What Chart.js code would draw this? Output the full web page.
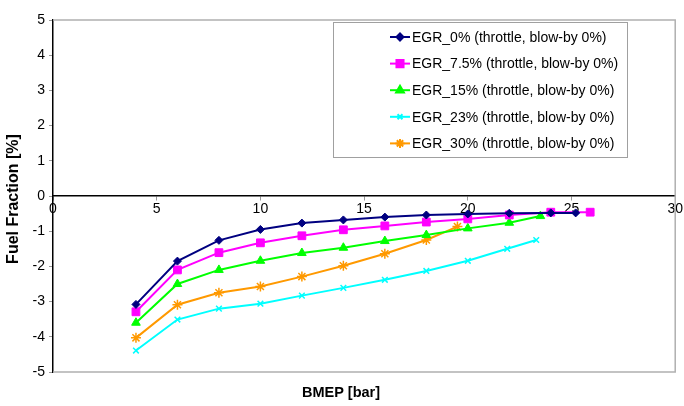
<!DOCTYPE html>
<html>
<head>
<meta charset="utf-8">
<script src="https://cdn.jsdelivr.net/npm/chart.js@4"></script>
<style>
  body { margin: 0; background: #fff; }
  #wrap { width: 684px; height: 406px; }
</style>
</head>
<body>
<div id="wrap"><canvas id="myChart" width="684" height="406"></canvas></div>
<script>
// BMEP [bar] / fuel fraction [%]
const bmep0 = [4, 6, 8, 10, 12, 14, 16, 18, 20, 22, 24, 25.2];
const egr0 = [-3.08, -1.85, -1.26, -0.95, -0.77, -0.68, -0.6, -0.54, -0.51, -0.49, -0.48, -0.48];

const bmep75 = [4, 6, 8, 10, 12, 14, 16, 18, 20, 22, 24, 25.9];
const egr75 = [-3.29, -2.1, -1.61, -1.33, -1.13, -0.96, -0.85, -0.74, -0.65, -0.54, -0.46, -0.46];

const bmep15 = [4, 6, 8, 10, 12, 14, 16, 18, 20, 22, 23.5];
const egr15 = [-3.6, -2.5, -2.1, -1.84, -1.62, -1.47, -1.28, -1.11, -0.92, -0.76, -0.57];

const bmep23 = [4, 6, 8, 10, 12, 14, 16, 18, 20, 21.9, 23.3];
const egr23 = [-4.39, -3.51, -3.2, -3.06, -2.83, -2.61, -2.38, -2.13, -1.84, -1.5, -1.25];

const bmep30 = [4, 6, 8, 10, 12, 14, 16, 18, 19.5];
const egr30 = [-4.03, -3.09, -2.75, -2.57, -2.29, -1.98, -1.64, -1.25, -0.87];

const labels = [
  "EGR_0% (throttle, blow-by 0%)",
  "EGR_7.5% (throttle, blow-by 0%)",
  "EGR_15% (throttle, blow-by 0%)",
  "EGR_23% (throttle, blow-by 0%)",
  "EGR_30% (throttle, blow-by 0%)"
];

const FONT = '"Liberation Sans", Arial, sans-serif';

function toPoints(xs, ys) {
  return xs.map((x, i) => ({ x: x, y: ys[i] }));
}

function makeSet(label, xs, ys, color, style, radius) {
  return {
    label: label,
    data: toPoints(xs, ys),
    borderColor: color,
    backgroundColor: color,
    borderWidth: 2,
    pointStyle: style,
    pointRadius: radius,
    pointBorderWidth: style === 'crossRot' || style === 'star' ? 1.5 : 1,
    pointBorderColor: color,
    pointBackgroundColor: color,
    tension: 0
  };
}

const frame = {
  id: 'frame',
  beforeDatasetsDraw(chart) {
    const a = chart.chartArea;
    const ctx = chart.ctx;
    ctx.save();
    ctx.strokeStyle = '#b0b0b0';
    ctx.lineWidth = 1.5;
    ctx.beginPath();
    ctx.moveTo(a.left, a.top);
    ctx.lineTo(a.right, a.top);
    ctx.lineTo(a.right, a.bottom);
    ctx.lineTo(a.left, a.bottom);
    ctx.stroke();
    ctx.restore();
  },
  afterDraw(chart) {
    const ctx = chart.ctx;
    ctx.save();
    // axis titles
    ctx.fillStyle = '#000';
    ctx.textAlign = 'center';
    ctx.textBaseline = 'middle';
    ctx.font = 'bold 14.5px ' + FONT;
    ctx.fillText('BMEP [bar]', 341, 393);
    ctx.font = 'bold 16px ' + FONT;
    ctx.translate(14, 199);
    ctx.rotate(-Math.PI / 2);
    ctx.fillText('Fuel Fraction [%]', 0, 0);
    ctx.restore();

    // legend box
    ctx.save();
    ctx.fillStyle = '#fff';
    ctx.fillRect(333, 22, 295, 136);
    ctx.strokeStyle = '#a0a0a0';
    ctx.lineWidth = 1;
    ctx.strokeRect(333.5, 22.5, 294, 135);
    ctx.font = '14px ' + FONT;
    ctx.textAlign = 'left';
    ctx.textBaseline = 'middle';
    chart.data.datasets.forEach((ds, i) => {
      const y = 37 + i * 26.6;
      ctx.strokeStyle = ds.borderColor;
      ctx.lineWidth = 2;
      ctx.beginPath();
      ctx.moveTo(390, y);
      ctx.lineTo(410, y);
      ctx.stroke();
      ctx.fillStyle = ds.borderColor;
      Chart.helpers.drawPoint(ctx, {
        pointStyle: ds.pointStyle,
        radius: ds.pointRadius - 0.5,
        rotation: 0,
        borderWidth: ds.pointBorderWidth
      }, 400, y);
      ctx.fillStyle = '#000';
      ctx.fillText(ds.label, 412, y + 1);
    });
    ctx.restore();
  }
};

const ctx = document.getElementById('myChart').getContext('2d');
new Chart(ctx, {
  type: 'line',
  data: {
    datasets: [
      makeSet(labels[0], bmep0, egr0, '#000080', 'rectRot', 4),
      makeSet(labels[1], bmep75, egr75, '#ff00ff', 'rect', 5.5),
      makeSet(labels[2], bmep15, egr15, '#00ff00', 'triangle', 5),
      makeSet(labels[3], bmep23, egr23, '#00ffff', 'crossRot', 4),
      makeSet(labels[4], bmep30, egr30, '#ff9900', 'star', 5)
    ]
  },
  options: {
    responsive: false,
    animation: false,
    layout: { padding: { top: 20, right: 0, bottom: 34, left: 0 } },
    plugins: { legend: { display: false }, tooltip: { enabled: false } },
    scales: {
      x: {
        type: 'linear',
        position: { y: 0 },
        min: 0,
        max: 30,
        ticks: {
          stepSize: 5,
          color: '#000',
          font: { size: 14, family: FONT },
          padding: 1,
          maxRotation: 0
        },
        grid: { drawOnChartArea: false, color: '#999', tickLength: 4 },
        border: { color: '#000', width: 1.5 }
      },
      y: {
        min: -5,
        max: 5,
        afterFit(scale) { scale.width = 53; },
        ticks: {
          stepSize: 1,
          color: '#000',
          font: { size: 14, family: FONT },
          padding: 4
        },
        grid: { drawOnChartArea: false, color: '#999', tickLength: 4 },
        border: { color: '#000', width: 1.5 }
      }
    }
  },
  plugins: [frame]
});
</script>
</body>
</html>
